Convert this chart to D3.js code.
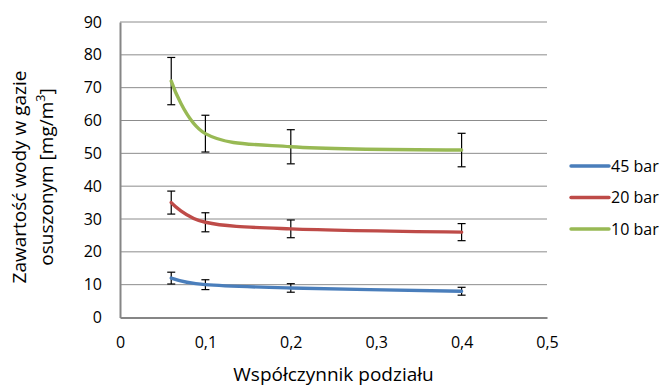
<!DOCTYPE html>
<html>
<head>
<meta charset="utf-8">
<script src="https://cdn.jsdelivr.net/npm/d3@7"></script>
<style>
  body { margin: 0; background: #fff; }
  svg { display: block; font-family: "Open Sans", "Liberation Sans", sans-serif; }
</style>
</head>
<body>
<div id="chart"></div>
<script>
// data
const xValues = [0.06, 0.1, 0.2, 0.4];
const series = ['45 bar', '20 bar', '10 bar'];
const colors = ['#4a7ebb', '#be4b48', '#98b954'];
const values45 = [12, 10, 9, 8];
const values20 = [35, 29, 27, 26];
const values10 = [72, 56, 52, 51];
const errors45 = [1.8, 1.5, 1.3, 1.2];
const errors20 = [3.5, 2.9, 2.7, 2.6];
const errors10 = [7.2, 5.6, 5.2, 5.1];
const xTicks = [0, 0.1, 0.2, 0.3, 0.4, 0.5];
const yTicks = [0, 10, 20, 30, 40, 50, 60, 70, 80, 90];

const width = 660, height = 387;
const margin = { top: 22, right: 113, bottom: 69.5, left: 120 };

const svg = d3.select('#chart')
  .append('svg')
  .attr('width', width)
  .attr('height', height);

const x = d3.scaleLinear()
  .domain([0, 0.5])
  .range([margin.left, width - margin.right]);

const y = d3.scaleLinear()
  .domain([0, 90])
  .range([height - margin.bottom, margin.top]);

const fmt = d => d3.format('.1f')(d).replace('.', ',');

// gridlines
svg.append('g')
  .selectAll('line')
  .data(yTicks.filter(d => d > 0))
  .enter()
  .append('line')
  .attr('x1', x(0))
  .attr('x2', x(0.5))
  .attr('y1', d => y(d))
  .attr('y2', d => y(d))
  .attr('stroke', '#8c8c8c')
  .attr('stroke-width', 1);

// axes
const yAxis = svg.append('g')
  .attr('transform', `translate(${x(0)},0)`)
  .call(d3.axisLeft(y).tickValues(yTicks).tickSize(0).tickPadding(18));
const xAxis = svg.append('g')
  .attr('transform', `translate(0,${y(0)})`)
  .call(d3.axisBottom(x).tickValues(xTicks).tickSize(0).tickPadding(19)
    .tickFormat(d => d === 0 ? '0' : fmt(d)));

[xAxis, yAxis].forEach(a => {
  a.select('.domain').attr('stroke', '#868686').attr('stroke-width', 2);
  a.selectAll('text').attr('font-size', 16).attr('fill', '#000')
    .attr('font-family', '"Open Sans", sans-serif');
});

// lines
const rows = [
  { vals: values45, errs: errors45 },
  { vals: values20, errs: errors20 },
  { vals: values10, errs: errors10 }
];

const line = d3.line()
  .x((d, i) => x(xValues[i]))
  .y(d => y(d))
  .curve(d3.curveCardinal.tension(0));

rows.forEach((r, k) => {
  const g = svg.append('g');
  // error bars
  const eb = g.selectAll('g.err')
    .data(r.vals.map((v, i) => ({ x: xValues[i], v, e: r.errs[i] })))
    .enter()
    .append('g')
    .attr('class', 'err')
    .attr('stroke', '#000')
    .attr('stroke-width', 1.2);
  eb.append('line')
    .attr('x1', d => x(d.x)).attr('x2', d => x(d.x))
    .attr('y1', d => y(d.v - d.e)).attr('y2', d => y(d.v + d.e));
  eb.append('line')
    .attr('x1', d => x(d.x) - 4).attr('x2', d => x(d.x) + 4)
    .attr('y1', d => y(d.v + d.e)).attr('y2', d => y(d.v + d.e));
  eb.append('line')
    .attr('x1', d => x(d.x) - 4).attr('x2', d => x(d.x) + 4)
    .attr('y1', d => y(d.v - d.e)).attr('y2', d => y(d.v - d.e));

  g.append('path')
    .datum(r.vals)
    .attr('d', line)
    .attr('fill', 'none')
    .attr('stroke', colors[k])
    .attr('stroke-width', 3.4)
    .attr('stroke-linecap', 'round');
});

// legend
const legend = svg.append('g')
  .selectAll('g')
  .data(series)
  .enter()
  .append('g')
  .attr('transform', (d, i) => `translate(571,${166 + i * 31.5})`);
legend.append('line')
  .attr('x1', 0).attr('x2', 38)
  .attr('stroke', (d, i) => colors[i])
  .attr('stroke-width', 3.4)
  .attr('stroke-linecap', 'round');
legend.append('text')
  .attr('x', 40)
  .attr('dy', '0.35em')
  .attr('font-size', 16)
  .text(d => d);

// axis titles
svg.append('text')
  .attr('x', x(0.25))
  .attr('y', 381)
  .attr('text-anchor', 'middle')
  .attr('font-size', 19)
  .text('Współczynnik podziału');

const yt = svg.append('text')
  .attr('transform', `translate(0,177) rotate(-90)`)
  .attr('text-anchor', 'middle')
  .attr('font-size', 19);
yt.append('tspan').attr('x', 0).attr('y', 26).text('Zawartość wody w gazie');
const t2 = yt.append('tspan').attr('x', 0).attr('y', 53).text('osuszonym [mg/m');
t2.append('tspan').attr('dy', -8).attr('font-size', 12.5).text('3');
t2.append('tspan').attr('dy', 8).text(']');
</script>
</body>
</html>
